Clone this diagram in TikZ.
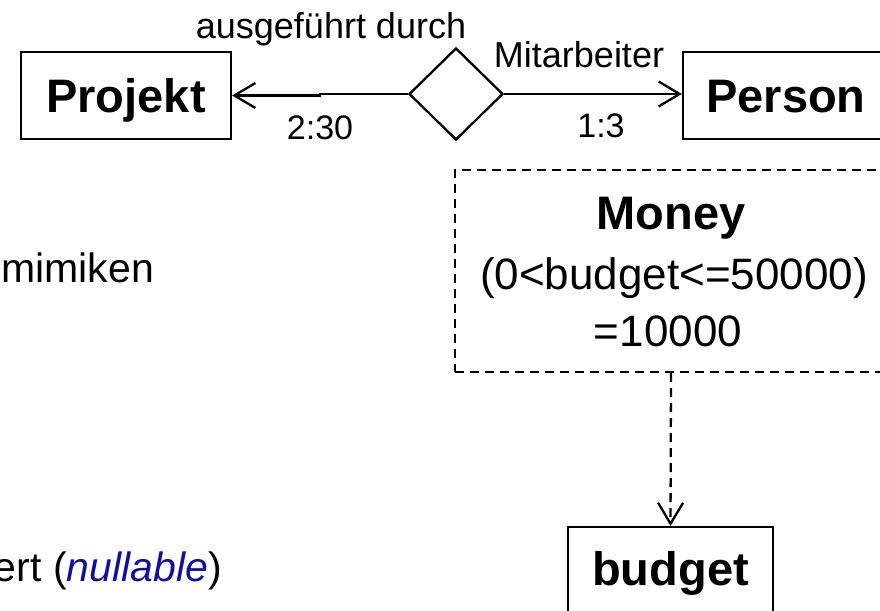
\documentclass[tikz,border=0pt]{standalone}
\usepackage{fontspec}
\setmainfont{Liberation Sans}
\usetikzlibrary{arrows.meta,shapes.geometric}
\definecolor{nullblue}{RGB}{16,16,160}
\begin{document}
\begin{tikzpicture}[x=1pt,y=1pt,
  line width=2.3pt,
  entity/.style={draw, rectangle, inner sep=0pt, text height=35pt, text depth=0pt,
    font=\fontsize{47}{56}\selectfont\bfseries},
  rel/.style={draw, diamond, inner sep=0pt, minimum width=94pt, minimum height=92pt},
  lbl/.style={inner sep=0pt, anchor=base, font=\fontsize{36}{43}\selectfont},
  bodytext/.style={inner sep=0pt, anchor=base east, font=\fontsize{41}{49}\selectfont},
  domtext/.style={inner sep=0pt, anchor=base, font=\fontsize{44}{53}\selectfont},
  barb/.style={-{Straight Barb[length=21pt,width=25pt]}},
  dashpat/.style={dash pattern=on 9pt off 6pt}]
\useasboundingbox (0,0) rectangle (880,610);

% entities and the relationship
\node[entity, minimum width=210pt, minimum height=87pt] (proj) at (126,514.5) {Projekt};
\node[entity, minimum width=206pt, minimum height=87pt] (pers) at (786,514.5) {Person};
\node[rel] (dia) at (456,516) {};

% connectors with cardinalities
\draw[barb] (dia.west) -- (320,516) |- (proj.east);
\draw[barb] (dia.east) -- (dia.east -| pers.west);
\node[lbl] (role1) at (331,571) {ausgeführt durch};
\node[lbl] (role2) at (579,542) {Mitarbeiter};
\node[lbl, font=\fontsize{34}{41}\selectfont] (card1) at (320,470) {2:30};
\node[lbl, font=\fontsize{34}{41}\selectfont] (card2) at (601,472) {1:3};

% domain box
\node[draw, dashpat, rectangle, inner sep=0pt, minimum width=432pt, minimum height=202pt]
  (money) at (671,339) {};
\node[domtext, font=\fontsize{47}{56}\selectfont\bfseries] (mname) at (671,380) {Money};
\node[domtext] (mrange) at (674,320) {(0<budget<=50000)};
\node[domtext] (mdef) at (668,263) {=10000};

% attribute
\node[entity, anchor=north, text depth=40pt, minimum width=205pt, minimum height=121pt]
  (budget) at (670.5,84) {budget};
\draw[barb, dashpat] (money.south) -- (budget.north);

% body text on the left
\node[bodytext] (t1) at (155,327) {mimiken};
\node[bodytext] (t2) at (223,28) {ert (\textcolor{nullblue}{\itshape nullable})};
\end{tikzpicture}
\end{document}
